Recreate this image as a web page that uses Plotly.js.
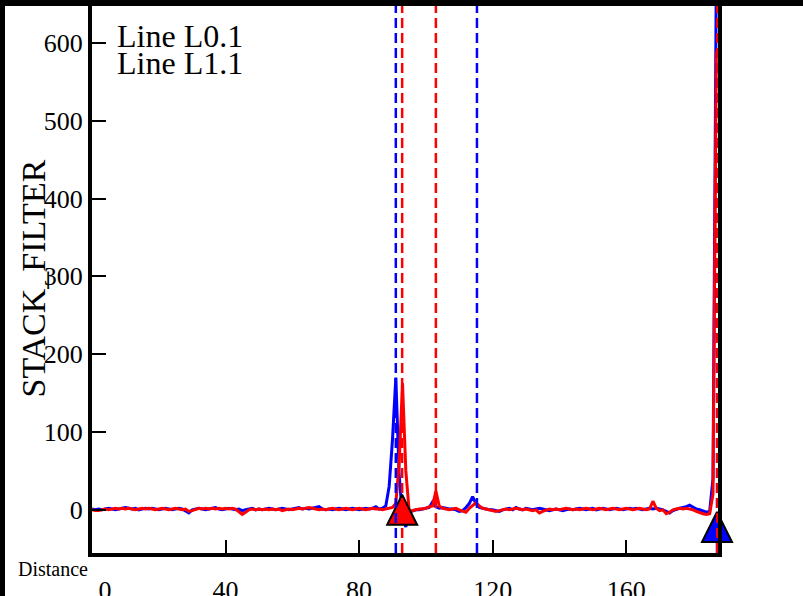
<!DOCTYPE html>
<html>
<head>
<meta charset="utf-8">
<script src="https://cdn.plot.ly/plotly-3.0.1.min.js"></script>
<style>
html,body{margin:0;padding:0;background:#fff;overflow:hidden;}
#wrap{position:relative;width:803px;height:596px;}
#plot{position:absolute;left:0;top:0;width:803px;height:596px;}
.bl{position:absolute;left:0;top:0;width:5px;height:596px;background:#000;pointer-events:none;}
.bt{position:absolute;left:0;top:0;width:803px;height:6px;background:#000;pointer-events:none;}
</style>
</head>
<body>
<div id="wrap"><div id="plot"></div><div class="bl"></div><div class="bt"></div></div>
<script>
// ---- data ----
const distance = Array.from({length: 188}, (_, i) => i); // sample positions 0..187

const lineL0 = [
 1,0,1,0,1,2,1,0,1,2, 3,2,1,2,0,1,2,1,2,1, 0,1,2,1,0,1,2,1,-1,-4,
 0,1,2,1,0,1,2,3,1,0, 1,2,1,0,1,-1,0,1,2,0, 1,0,1,2,1,0,1,2,1,0,
 1,2,3,1,2,1,2,3,4,1, 0,1,0,1,2,1,0,1,2,1, 0,1,2,1,2,4,1,2,5,30,
 90,170,45,-10,-22,-3,-1,0,0,1, 2,3,10,4,2,3,2,1,1,0, -2,-1,3,8,17,8,3,2,1,0,
 0,-1,-2,0,1,2,0,3,1,0, 2,1,0,1,2,1,0,-1,0,1, 0,-1,0,1,0,1,2,1,0,1,
 2,0,1,2,1,0,1,2,1,0, 1,2,1,2,1,0,1,2,1,2, 1,0,-2,-4,-1,1,2,3,4,6,
 3,1,0,-2,-3,-2,40,690
];
const lineL1 = [
 0,-1,-1,0,1,0,1,2,1,2, 1,2,1,0,1,2,1,2,1,0, 1,2,1,0,1,2,1,0,1,-2,
 -1,1,2,1,2,1,2,1,2,1, 2,1,2,1,-3,-6,-3,0,1,0, 1,0,1,0,1,0,1,-1,0,1,
 0,1,2,1,2,3,2,1,0,1, 0,1,2,1,0,1,2,1,0,1, 2,1,0,1,2,1,1,0,1,2,
 3,8,60,163,50,-2,-1,0,1,1, 2,4,5,24,5,2,1,0,1,2, 0,-2,-3,2,6,9,5,2,1,0,
 -1,-2,-1,0,1,0,1,2,1,0, 1,0,-1,0,-4,-2,0,1,0,1, 0,1,2,1,0,1,0,1,2,1,
 0,1,2,1,0,1,2,1,0,1, 2,1,0,1,2,1,0,1,11,2, -1,0,-5,-3,0,1,2,1,2,1,
 0,-2,-3,-5,-6,-5,20,590
];

const blueEvents = [91.0, 115.3, 187.2];   // blue dashed markers (Distance)
const redEvents  = [92.9, 103.0, 187.3];   // red dashed markers (Distance)
const redPickX  = [92.9],  redPickY  = [0];
const bluePickX = [187.2], bluePickY = [-22];

const seriesNames = ['Line L0.1', 'Line L1.1'];
const xTickVals = [0, 40, 80, 120, 160];
const xTickText = ['\u00a0\u00a0\u00a0\u00a00', '40', '80', '120', '160'];
const yTickVals = [0, 100, 200, 300, 400, 500, 600];

// ---- traces ----
const FAM = 'Liberation Serif';
const traces = [
  {x: distance, y: lineL0, type: 'scatter', mode: 'lines', name: seriesNames[0],
   line: {color: '#0000ff', width: 3}},
  {x: distance, y: lineL1, type: 'scatter', mode: 'lines', name: seriesNames[1],
   line: {color: '#ff0000', width: 3}},
  {x: redPickX, y: redPickY, type: 'scatter', mode: 'markers', showlegend: false, cliponaxis: false,
   marker: {symbol: 'arrow-down', angle: 180, size: 30, standoff: 15, color: '#ff0000', line: {color: '#000', width: 2}}},
  {x: bluePickX, y: bluePickY, type: 'scatter', mode: 'markers', showlegend: false, cliponaxis: false,
   marker: {symbol: 'arrow-down', angle: 180, size: 30, standoff: 15, color: '#0000ff', line: {color: '#000', width: 2}}}
];

const shapes = [];
blueEvents.forEach(v => shapes.push({type: 'line', xref: 'x', yref: 'paper', x0: v, x1: v, y0: 0, y1: 1,
  line: {color: '#0000ff', width: 2.5, dash: '10px,5px'}, layer: 'above'}));
redEvents.forEach(v => shapes.push({type: 'line', xref: 'x', yref: 'paper', x0: v, x1: v, y0: 0, y1: 1,
  line: {color: '#ff0000', width: 2.5, dash: '10px,5px'}, layer: 'above'}));

const tf = {family: FAM, size: 26, color: '#000'};
const layout = {
  width: 803, height: 596,
  margin: {l: 92, r: 85, t: 4, b: 43, pad: 0},
  paper_bgcolor: '#fff', plot_bgcolor: '#fff',
  showlegend: false,
  font: {family: FAM, color: '#000'},
  xaxis: {range: [0, 187.5], tickmode: 'array', tickvals: xTickVals, ticktext: xTickText,
    ticks: 'inside', ticklen: 13, tickwidth: 2, tickcolor: '#000',
    showline: true, linecolor: '#000', linewidth: 4, mirror: true,
    showgrid: false, zeroline: false, tickfont: tf, ticklabelstandoff: 11},
  yaxis: {range: [-55.5, 650], tickmode: 'array', tickvals: yTickVals,
    ticks: 'inside', ticklen: 14, tickwidth: 2, tickcolor: '#000',
    showline: true, linecolor: '#000', linewidth: 4, mirror: true,
    showgrid: false, zeroline: false, tickfont: tf, ticklabelstandoff: 0},
  shapes: shapes,
  annotations: [
    {text: 'STACK_FILTER', xref: 'paper', yref: 'paper', x: 0, y: 0.5, xshift: -59,
     textangle: -90, showarrow: false, xanchor: 'center', yanchor: 'middle',
     font: {family: FAM, size: 34, color: '#000'}},
    {text: 'Distance', xref: 'paper', yref: 'paper', x: 0, y: 0, xanchor: 'right', yanchor: 'top',
     xshift: -2, yshift: -3, showarrow: false, font: {family: FAM, size: 20, color: '#000'}},
    {text: seriesNames[0], xref: 'paper', yref: 'paper', x: 0, y: 1, xanchor: 'left', yanchor: 'top',
     xshift: 23, yshift: -12, showarrow: false, font: {family: FAM, size: 32, color: '#000'}},
    {text: seriesNames[1], xref: 'paper', yref: 'paper', x: 0, y: 1, xanchor: 'left', yanchor: 'top',
     xshift: 23, yshift: -39, showarrow: false, font: {family: FAM, size: 32, color: '#000'}}
  ]
};

Plotly.newPlot('plot', traces, layout, {displayModeBar: false, staticPlot: true});
</script>
</body>
</html>
